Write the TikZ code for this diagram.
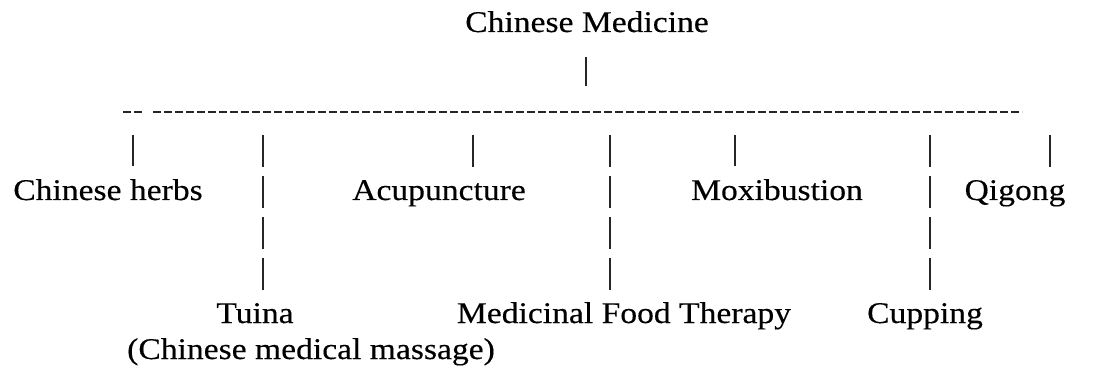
\documentclass[tikz,border=0pt]{standalone}
\usepackage{fontspec}
\setmainfont{Liberation Serif}[FakeStretch=1.12, FakeBold=0.3]
\usepackage{tikz}
\usetikzlibrary{positioning}
\tikzstyle{term} = [anchor=base, inner sep=0pt, font=\fontsize{30}{32}\selectfont]
\tikzstyle{bar} = [line width=1.1pt, black!85, dash pattern=on 32pt off 9pt]
\tikzstyle{branchline} = [line width=1.6pt, black!85, dash pattern=on 8pt off 3pt]

\begin{document}
\begin{tikzpicture}[x=1pt, y=-1pt]
			\useasboundingbox (0,0) rectangle (1102,371);
			
			\node (med) [term] at (587,32) {Chinese Medicine};
			
			\node (herbs) [term] at (108,200) {Chinese herbs};
			\node (acu) [term] at (439,200) {Acupuncture};
			\node (moxa) [term] at (777,200) {Moxibustion};
			\node (qigong) [term] at (1015,200) {Qigong};
			
			\node (tuina) [term] at (255,323) {Tuina};
			\node (massage) [term] at (311,359) {(Chinese medical massage)};
			\node (food) [term] at (624,323) {Medicinal Food Therapy};
			\node (cupping) [term] at (925,323) {Cupping};
			
			\coordinate (hub) at (586,86);
			\coordinate (l0) at (123,112);
			\coordinate (l1) at (143,112);
			\coordinate (l2) at (153,112);
			\coordinate (l3) at (1022,112);
			
			\coordinate (herbs bar) at (133,135);
			\coordinate (tuina bar) at (263,135);
			\coordinate (acu bar) at (473,135);
			\coordinate (food bar) at (610,135);
			\coordinate (moxa bar) at (735,135);
			\coordinate (cupping bar) at (930,135);
			\coordinate (qigong bar) at (1050,135);
			
			\draw[bar, shorten <=25pt] (med.south -| hub) -- (hub);
			\draw[branchline] (l0) -- (l1);
			\draw[branchline] (l2) -- (l3);
			
			\draw[bar, shorten >=13pt] (herbs bar) -- (herbs bar |- herbs.north);
			\draw[bar, shorten >=13pt] (acu bar) -- (acu bar |- acu.north);
			\draw[bar, shorten >=13pt] (moxa bar) -- (moxa bar |- moxa.north);
			\draw[bar, shorten >=13pt] (qigong bar) -- (qigong bar |- qigong.north);
			\draw[bar, shorten >=12pt] (tuina bar) -- (tuina bar |- tuina.north);
			\draw[bar, shorten >=12pt] (food bar) -- (food bar |- food.north);
			\draw[bar, shorten >=12pt] (cupping bar) -- (cupping bar |- cupping.north);
			
\end{tikzpicture}
\end{document}
